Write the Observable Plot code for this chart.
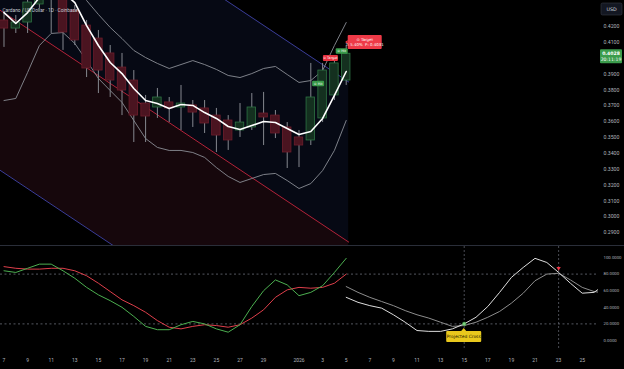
<!DOCTYPE html>
<html><head><meta charset="utf-8">
<script src="https://cdn.jsdelivr.net/npm/d3@7"></script>
<script src="https://cdn.jsdelivr.net/npm/@observablehq/plot@0.6"></script>
<style>
html,body{margin:0;padding:0;background:#000;}
#chart{width:624px;height:369px;position:relative;overflow:hidden;background:#000;}
#chart svg{display:block;}
#lower{border-top:1px solid #2a2e39;}
</style></head>
<body><div id="chart"><div id="upper"></div><div id="lower"></div></div>
<script>
// ---------- data ----------
const title = "Cardano / US Dollar · 1D · Coinbase";
const dates = ["2025-12-07","2025-12-08","2025-12-09","2025-12-10","2025-12-11","2025-12-12","2025-12-13","2025-12-14","2025-12-15","2025-12-16","2025-12-17","2025-12-18","2025-12-19","2025-12-20","2025-12-21","2025-12-22","2025-12-23","2025-12-24","2025-12-25","2025-12-26","2025-12-27","2025-12-28","2025-12-29","2025-12-30","2025-12-31","2026-01-01","2026-01-02","2026-01-03","2026-01-04","2026-01-05"];
const open  = [0.4238,0.4187,0.4225,0.4339,0.4440,0.4389,0.4301,0.4206,0.4124,0.4030,0.3941,0.3859,0.3714,0.3689,0.3721,0.3689,0.3702,0.3683,0.3638,0.3607,0.3544,0.3563,0.3651,0.3638,0.3563,0.3500,0.3481,0.3620,0.3765,0.3859];
const high  = [0.4288,0.4269,0.4396,0.4490,0.4522,0.4440,0.4332,0.4238,0.4175,0.4080,0.4030,0.3922,0.3765,0.3809,0.3752,0.3828,0.3733,0.3733,0.3683,0.3638,0.3714,0.3777,0.3784,0.3670,0.3594,0.3544,0.3967,0.3967,0.3998,0.4080];
const low   = [0.4068,0.4156,0.4156,0.4314,0.4156,0.4049,0.4080,0.3878,0.3777,0.3752,0.3638,0.3468,0.3468,0.3620,0.3594,0.3544,0.3563,0.3525,0.3405,0.3418,0.3500,0.3544,0.3449,0.3493,0.3304,0.3310,0.3449,0.3594,0.3733,0.3828];
const close = [0.4187,0.4225,0.4351,0.4440,0.4402,0.4162,0.4112,0.3935,0.3922,0.3859,0.3796,0.3638,0.3632,0.3752,0.3683,0.3714,0.3657,0.3588,0.3512,0.3481,0.3594,0.3689,0.3626,0.3525,0.3405,0.3449,0.3752,0.3922,0.3967,0.4028];
const maLine    = [0.4288,0.4219,0.4288,0.4383,0.4427,0.4415,0.4351,0.4206,0.4080,0.3973,0.3903,0.3809,0.3733,0.3714,0.3683,0.3708,0.3702,0.3657,0.3620,0.3569,0.3550,0.3575,0.3601,0.3594,0.3556,0.3519,0.3538,0.3620,0.3765,0.3916];
const upperBand = [0.4743,0.4711,0.4680,0.4648,0.4585,0.4522,0.4440,0.4364,0.4276,0.4194,0.4124,0.4049,0.4004,0.3967,0.3935,0.3960,0.3985,0.3960,0.3929,0.3891,0.3878,0.3903,0.3935,0.3948,0.3897,0.3847,0.3859,0.3922,0.4080,0.4225];
const lowerBand = [0.3733,0.3746,0.3910,0.4080,0.4156,0.4162,0.4093,0.3985,0.3872,0.3796,0.3721,0.3607,0.3493,0.3437,0.3418,0.3418,0.3405,0.3374,0.3310,0.3254,0.3216,0.3241,0.3266,0.3273,0.3228,0.3178,0.3209,0.3291,0.3418,0.3607];
const stochK = [84,82,87,92,92,84,75,64,55,48,40,29,17,13,13,19,23,20,14,10,19,41,60,73,67,54,58,66,82,99];
const stochD = [89,87,86,86,87,87,84,78,69,59,49,42,34,24,16,14,17,19,18,16,19,27,37,52,61,64,63,64,69,80];
const projDates = ["2026-01-05","2026-01-06","2026-01-07","2026-01-08","2026-01-09","2026-01-10","2026-01-11","2026-01-12","2026-01-13","2026-01-14","2026-01-15","2026-01-16","2026-01-17","2026-01-18","2026-01-19","2026-01-20","2026-01-21","2026-01-22","2026-01-23","2026-01-24","2026-01-25","2026-01-26","2026-01-27"];
const projK = [52,46,42,39,31,22,12,11,11,14,20,28,41,58,76,88,99,94,82,69,57,58,68];
const projD = [65,58,52,47,42,36,31,27,22,17,18,22,28,35,45,57,72,80,81,73,64,59,57];
const regDates = ["2025-12-06T00:00","2026-01-05T05:00"];
const regMid = [0.4336, 0.2840];
const channelHalfWidth = 0.101;
const priceTicks = [0.42,0.41,0.39,0.38,0.37,0.36,0.35,0.34,0.33,0.32,0.31,0.30,0.29];
const oscTicks = [100,80,60,40,20,0];
const oscLevels = [80,20];
const dateTicks = ["2025-12-07","2025-12-09","2025-12-11","2025-12-13","2025-12-15","2025-12-17","2025-12-19","2025-12-21","2025-12-23","2025-12-25","2025-12-27","2025-12-29","2026-01-01","2026-01-03","2026-01-05","2026-01-07","2026-01-09","2026-01-11","2026-01-13","2026-01-15","2026-01-17","2026-01-19","2026-01-21","2026-01-23","2026-01-25"];
const lastPrice = 0.4028, lastTime = "20:11:19", currency = "USD";
const signalDates  = ["2026-01-03","2026-01-04","2026-01-05","2026-01-05"];
const signalPrices = [0.3837,0.3998,0.4042,0.4099];
const signalKinds  = ["hit","target","hit","targetInfo"];
const signalTexts  = [["⊙ Hit"],["⊙ Target"],["⊙ Hit"],["⊙ Target","T: 5.40%  P: 0.4031"]];
const crossDates = ["2026-01-15","2026-01-23"];
const crossValues = [20, 87];
const crossKinds = ["bull","bear"];
const crossText = "Projected Cross";

// ---------- build ----------
const DAY = 864e5;
const toDate = s => new Date(s.length === 10 ? s + "T00:00:00Z" : s + ":00Z");
const bars = dates.map((d,i)=>({date:toDate(d),open:open[i],high:high[i],low:low[i],close:close[i],ma:maLine[i],ub:upperBand[i],lb:lowerBand[i],k:stochK[i],d:stochD[i]}));
const proj = projDates.map((d,i)=>({date:toDate(d),k:projK[i],d:projD[i]}));
const reg = regDates.map((d,i)=>({date:toDate(d),mid:regMid[i]}));
const crosses = crossDates.map((d,i)=>({date:toDate(d),value:crossValues[i],kind:crossKinds[i]}));
const t0 = +toDate(dates[0]);
const xDomain = [new Date(t0 - 0.2966*DAY), new Date(t0 + 50.38*DAY)];
const font = "Roboto, 'DejaVu Sans', sans-serif";
const half = 0.36*DAY;
const up = d => d.close >= d.open;

const upper = Plot.plot({
  width:624, height:245, marginLeft:0, marginRight:26, marginTop:0, marginBottom:0,
  style:{background:"#000", fontFamily:font, color:"#b2b5be"},
  x:{type:"utc", domain:xDomain, axis:null},
  y:{domain:[0.28183,0.43640], axis:null},
  marks:[
    Plot.areaY(reg,{x:"date", y1:"mid", y2:d=>d.mid+channelHalfWidth, fill:"#060914", clip:true}),
    Plot.areaY(reg,{x:"date", y1:d=>d.mid-channelHalfWidth, y2:"mid", fill:"#16070c", clip:true}),
    Plot.lineY(reg,{x:"date", y:d=>d.mid+channelHalfWidth, stroke:"#3a3d98", strokeWidth:1, clip:true}),
    Plot.lineY(reg,{x:"date", y:d=>d.mid-channelHalfWidth, stroke:"#3a3d98", strokeWidth:1, clip:true}),
    Plot.lineY(reg,{x:"date", y:"mid", stroke:"#b2233a", strokeWidth:1, clip:true}),
    Plot.lineY(bars,{x:"date", y:"ub", stroke:"#8a8d95", strokeWidth:0.9, clip:true}),
    Plot.lineY(bars,{x:"date", y:"lb", stroke:"#8a8d95", strokeWidth:0.9, clip:true}),
    Plot.ruleX(bars,{x:"date", y1:"low", y2:"high", stroke:"#85888f", strokeWidth:1, clip:true}),
    Plot.rect(bars,{filter:d=>!up(d), x1:d=>new Date(+d.date-half), x2:d=>new Date(+d.date+half), y1:"open", y2:"close", fill:"#4a1420", stroke:"#6e1e2c", strokeWidth:0.8, clip:true}),
    Plot.rect(bars,{filter:up, x1:d=>new Date(+d.date-half), x2:d=>new Date(+d.date+half), y1:"open", y2:"close", fill:"#14301f", stroke:"#2f7444", strokeWidth:0.8, clip:true}),
    Plot.lineY(bars,{x:"date", y:"ma", stroke:"#ffffff", strokeWidth:1.6, clip:true}),
    Plot.text([title],{text:d=>d, frameAnchor:"top-left", dx:2, dy:8, textAnchor:"start", fill:"#c9ccd4", fontSize:4.8}),
    Plot.axisY(priceTicks,{anchor:"right", tickSize:0, tickPadding:5, tickFormat:d3.format(".4f"), fill:"#b2b5be", fontSize:5.2, label:null})
  ]
});
document.getElementById("upper").appendChild(upper);

const lower = Plot.plot({
  width:624, height:123, marginLeft:0, marginRight:26, marginTop:11, marginBottom:29,
  style:{background:"#000", fontFamily:font, color:"#b2b5be"},
  x:{type:"utc", domain:xDomain},
  y:{domain:[0,100]},
  marks:[
    Plot.ruleY(oscLevels,{stroke:"#6b6e78", strokeDasharray:"2,2.5", strokeWidth:0.8}),
    Plot.ruleX(crosses,{x:"date", stroke:"#5d606a", strokeDasharray:"2,2", strokeWidth:0.8, insetTop:-11, insetBottom:-10}),
    Plot.lineY(bars,{x:"date", y:"d", stroke:"#df3f4b", strokeWidth:1}),
    Plot.lineY(bars,{x:"date", y:"k", stroke:"#4caf50", strokeWidth:1}),
    Plot.lineY(proj,{x:"date", y:"d", stroke:"#8d8d8d", strokeWidth:1, clip:true}),
    Plot.lineY(proj,{x:"date", y:"k", stroke:"#dedede", strokeWidth:1, clip:true}),
    Plot.dot(crosses,{filter:d=>d.kind==="bull", x:"date", y:"value", r:1.8, fill:"#7ed07f", stroke:"#3f9a45", strokeWidth:0.6}),
    Plot.dot(crosses,{filter:d=>d.kind==="bear", x:"date", y:"value", symbol:"triangle", rotate:180, r:1.6, fill:"#f23645"}),
    Plot.axisX(dateTicks.map(toDate),{tickSize:0, tickPadding:18, fill:"#b2b5be", fontSize:5, label:null,
      tickFormat:d=> (d.getUTCMonth()===0 && d.getUTCDate()===1) ? String(d.getUTCFullYear()) : String(d.getUTCDate())}),
    Plot.axisY(oscTicks,{anchor:"right", tickSize:0, tickPadding:5, tickFormat:d3.format(".4f"), fill:"#b2b5be", fontSize:4.3, label:null})
  ]
});
document.getElementById("lower").appendChild(lower);

// ---------- annotation boxes positioned with the plots' scales ----------
function labelBox(svg, o){
  const g = d3.select(svg).append("g").attr("font-family", "'DejaVu Sans', Roboto, sans-serif");
  const x0 = o.cx - o.w/2, y0 = o.cy - o.h/2;
  g.append("rect").attr("x",x0).attr("y",y0).attr("width",o.w).attr("height",o.h).attr("rx",o.rx ?? 1).attr("fill",o.fill).attr("stroke",o.stroke||"none").attr("stroke-width",0.6);
  if (o.pointer==="left") g.append("path").attr("d",`M${x0},${o.cy-2}L${x0-2.5},${o.cy}L${x0},${o.cy+2}Z`).attr("fill",o.fill);
  if (o.pointer==="up") g.append("path").attr("d",`M${o.cx-2.5},${y0}L${o.cx},${y0-3}L${o.cx+2.5},${y0}Z`).attr("fill",o.fill);
  const n = o.lines.length;
  o.lines.forEach((t,i)=>{
    g.append("text").attr("x",o.cx).attr("y",o.cy + (i-(n-1)/2)*o.lh).attr("dy","0.35em")
      .attr("text-anchor","middle").attr("font-size",o.fs).attr("font-weight",o.bold&&i===0?"bold":null).attr("fill",o.color).text(t);
  });
}
const sx = upper.scale("x"), sy = upper.scale("y");
const sigLayout = {
  hit:{dx:-4, w:12, h:5.6, fill:"#3a9a4a", fs:3.4},
  target:{dx:-3.5, w:15, h:6, fill:"#e8323f", fs:3.4},
  targetInfo:{dx:19, w:34, h:14, fill:"#ee3a47", fs:3.9, pointer:"left"}
};
signalDates.forEach((d,i)=>{
  const L = sigLayout[signalKinds[i]];
  labelBox(upper,{cx:sx.apply(toDate(d))+L.dx, cy:sy.apply(signalPrices[i]), w:L.w, h:L.h, fill:L.fill, color:"#fff", fs:L.fs, lh:4.6, lines:signalTexts[i], pointer:L.pointer});
});
// last price tag
const py = sy.apply(lastPrice);
labelBox(upper,{cx:611, cy:py+3, w:22, h:14, fill:"#3b9c4c", color:"#fff", fs:4.6, lh:5.6, lines:[d3.format(".4f")(lastPrice), lastTime], rx:1, bold:true});
// currency box
labelBox(upper,{cx:611.5, cy:9, w:21, h:12, fill:"#131722", stroke:"#363a45", color:"#d1d4dc", fs:4.8, lh:5, lines:[currency], rx:1.5});

// projected cross label
const lx = lower.scale("x"), ly = lower.scale("y");
crosses.filter(c=>c.kind==="bull").forEach(c=>{
  labelBox(lower,{cx:lx.apply(c.date), cy:ly.apply(c.value)+13, w:35, h:11, fill:"#e9c81d", color:"#2a2200", fs:4.4, lh:5, lines:[crossText], pointer:"up", rx:1});
});
</script>
</body></html>
